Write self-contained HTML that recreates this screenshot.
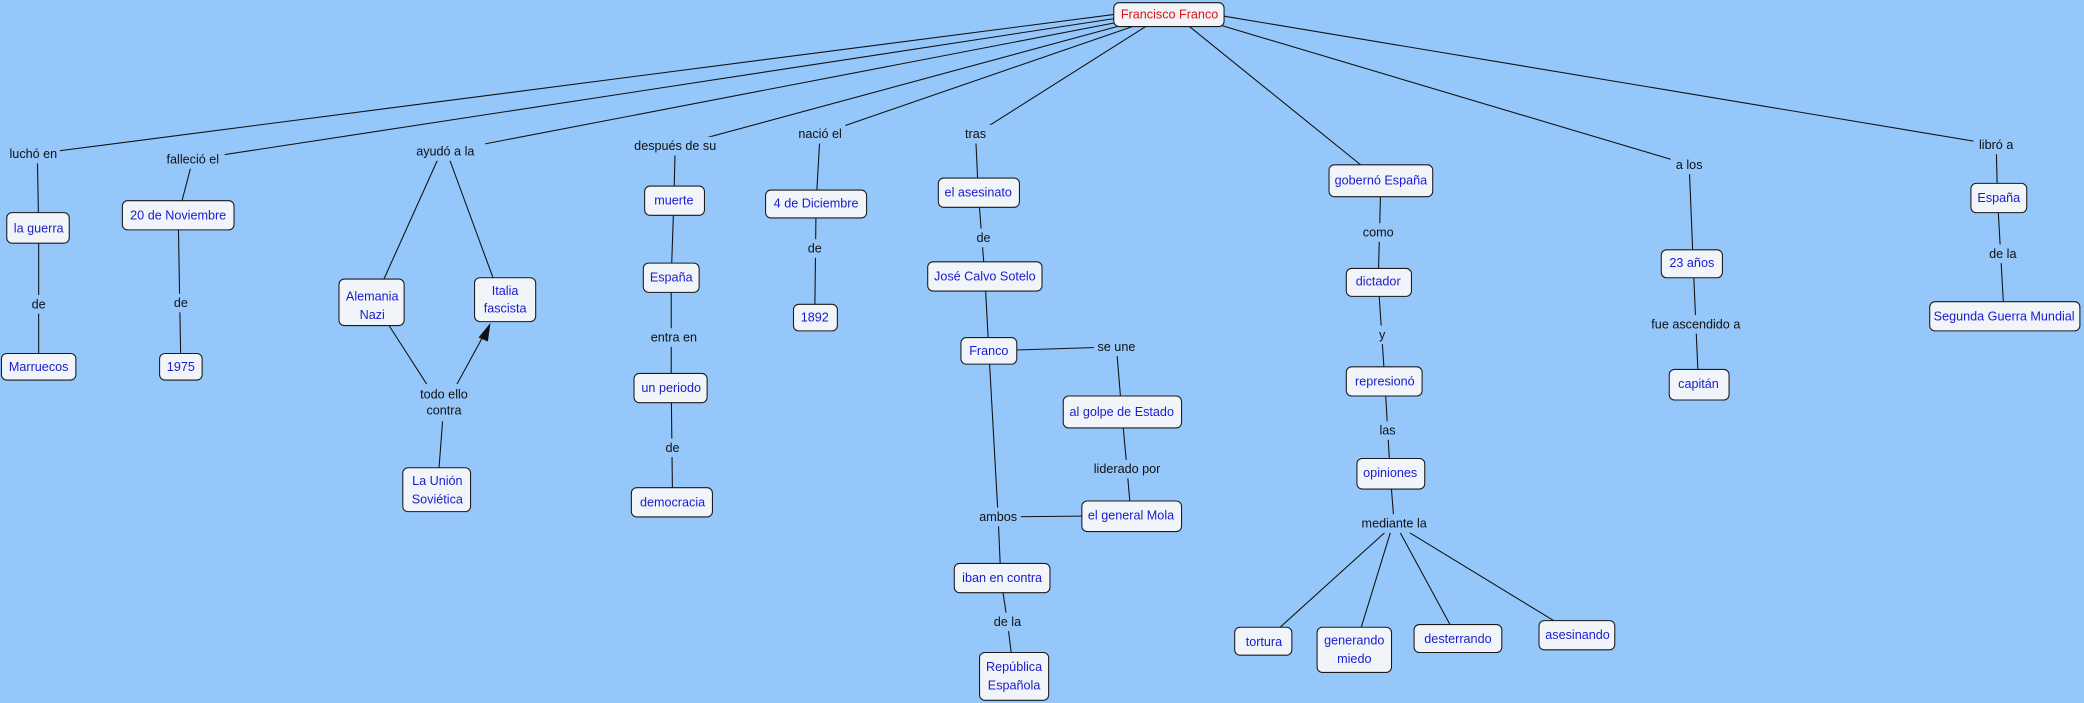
<!DOCTYPE html>
<html><head><meta charset="utf-8"><style>
html,body{margin:0;padding:0;background:#95c7fb;}
svg{display:block}
text{font-family:"Liberation Sans",sans-serif;font-size:9.5px;text-anchor:middle;dominant-baseline:central}
.n rect{fill:#f1f5f9;stroke:#1a1a1a;stroke-width:0.8}
.n text{fill:#1a1ad0}
.l text{fill:#111}
.l rect{fill:#95c7fb}
line{stroke:#111;stroke-width:0.8}
</style></head><body>
<svg width="2084" height="703" viewBox="0 0 1568 529" xmlns="http://www.w3.org/2000/svg">
<rect width="1568" height="529" fill="#95c7fb"/>
<g>
<!-- from Franco -->
<line x1="845" y1="10" x2="25" y2="116"/>
<line x1="845" y1="13" x2="145" y2="120"/>
<line x1="845" y1="16" x2="335" y2="114"/>
<line x1="848" y1="18" x2="508" y2="110"/>
<line x1="852" y1="20" x2="617" y2="101"/>
<line x1="862" y1="20" x2="734" y2="101"/>
<line x1="895" y1="20" x2="1025" y2="125"/>
<line x1="915" y1="18" x2="1271" y2="124"/>
<line x1="920" y1="12" x2="1502" y2="109"/>
<!-- chains -->
<line x1="28" y1="116" x2="29" y2="172"/><line x1="29" y1="172" x2="29" y2="276"/>
<line x1="145" y1="120" x2="134" y2="162"/><line x1="134" y1="162" x2="136" y2="276"/>
<line x1="332" y1="114" x2="287" y2="214"/><line x1="336" y1="114" x2="372" y2="212"/>
<line x1="292" y1="244" x2="330" y2="303"/><line x1="340" y1="296" x2="364" y2="252"/>
<line x1="334" y1="303" x2="329" y2="369"/>
<line x1="508" y1="110" x2="507" y2="150"/><line x1="507" y1="150" x2="505" y2="209"/><line x1="505" y1="209" x2="505" y2="292"/><line x1="505" y1="292" x2="506" y2="378"/>
<line x1="617" y1="101" x2="614" y2="153"/><line x1="614" y1="153" x2="613" y2="239"/>
<line x1="734" y1="101" x2="736" y2="144"/><line x1="736" y1="144" x2="741" y2="208"/><line x1="741" y1="208" x2="744" y2="264"/>
<line x1="744" y1="264" x2="840" y2="261"/><line x1="840" y1="261" x2="844" y2="310"/><line x1="844" y1="310" x2="848" y2="353"/><line x1="848" y1="353" x2="851" y2="388"/>
<line x1="744" y1="264" x2="751" y2="389"/><line x1="851" y1="388" x2="751" y2="389"/><line x1="751" y1="389" x2="753" y2="435"/><line x1="753" y1="435" x2="758" y2="468"/><line x1="758" y1="468" x2="763" y2="509"/>
<line x1="1039" y1="136" x2="1037" y2="212"/><line x1="1037" y1="212" x2="1042" y2="287"/><line x1="1042" y1="287" x2="1046" y2="356"/><line x1="1046" y1="356" x2="1049" y2="394"/>
<line x1="1045" y1="398" x2="951" y2="483"/><line x1="1047" y1="398" x2="1019" y2="489"/><line x1="1052" y1="398" x2="1097" y2="481"/><line x1="1056" y1="398" x2="1187" y2="478"/>
<line x1="1271" y1="124" x2="1274" y2="198"/><line x1="1274" y1="198" x2="1278" y2="289"/>
<line x1="1502" y1="109" x2="1503" y2="149"/><line x1="1503" y1="149" x2="1508" y2="238"/>
<polygon points="369,243 360,254 367,257" fill="#111"/>
</g>
<!-- linking phrases -->
<g class="l">
<rect x="5" y="109" width="40" height="14"/><text x="25" y="116">luchó en</text>
<rect x="20" y="222" width="18" height="14"/><text x="29" y="229">de</text>
<rect x="121" y="113" width="48" height="14"/><text x="145" y="120">falleció el</text>
<rect x="127" y="221" width="18" height="14"/><text x="136" y="228">de</text>
<rect x="305" y="107" width="60" height="14"/><text x="335" y="114">ayudó a la</text>
<rect x="308" y="289" width="52" height="28"/><text x="334" y="297">todo ello</text><text x="334" y="309">contra</text>
<rect x="476" y="103" width="64" height="14"/><text x="508" y="110">después de su</text>
<rect x="485" y="247" width="44" height="14"/><text x="507" y="254">entra en</text>
<rect x="497" y="330" width="18" height="14"/><text x="506" y="337">de</text>
<rect x="598" y="94" width="38" height="14"/><text x="617" y="101">nació el</text>
<rect x="604" y="180" width="18" height="14"/><text x="613" y="187">de</text>
<rect x="722" y="94" width="24" height="14"/><text x="734" y="101">tras</text>
<rect x="731" y="172" width="18" height="14"/><text x="740" y="179">de</text>
<rect x="823" y="254" width="34" height="14"/><text x="840" y="261">se une</text>
<rect x="820" y="346" width="56" height="14"/><text x="848" y="353">liderado por</text>
<rect x="734" y="382" width="34" height="14"/><text x="751" y="389">ambos</text>
<rect x="745" y="461" width="26" height="14"/><text x="758" y="468">de la</text>
<rect x="1022" y="168" width="30" height="14"/><text x="1037" y="175">como</text>
<rect x="1033" y="245" width="14" height="14"/><text x="1040" y="252">y</text>
<rect x="1033" y="317" width="22" height="14"/><text x="1044" y="324">las</text>
<rect x="1022" y="387" width="54" height="14"/><text x="1049" y="394">mediante la</text>
<rect x="1257" y="117" width="28" height="14"/><text x="1271" y="124">a los</text>
<rect x="1240" y="237" width="72" height="14"/><text x="1276" y="244">fue ascendido a</text>
<rect x="1485" y="102" width="34" height="14"/><text x="1502" y="109">libró a</text>
<rect x="1494" y="184" width="26" height="14"/><text x="1507" y="191">de la</text>
</g>
<!-- concepts -->
<g class="n">
<rect x="838" y="2" width="83" height="18" rx="4"/><text x="880" y="11" style="fill:#e01010">Francisco Franco</text>
<rect x="5" y="160" width="47" height="23" rx="4"/><text x="29" y="172">la guerra</text>
<rect x="1" y="266" width="56" height="20" rx="4"/><text x="29" y="276">Marruecos</text>
<rect x="92" y="151" width="84" height="22" rx="4"/><text x="134" y="162">20 de Noviembre</text>
<rect x="120" y="266" width="32" height="20" rx="4"/><text x="136" y="276">1975</text>
<rect x="255" y="210" width="49" height="35" rx="4"/><text x="280" y="223">Alemania</text><text x="280" y="237">Nazi</text>
<rect x="357" y="209" width="46" height="33" rx="4"/><text x="380" y="219">Italia</text><text x="380" y="232">fascista</text>
<rect x="303" y="352" width="51" height="33" rx="4"/><text x="329" y="362">La Unión</text><text x="329" y="376">Soviética</text>
<rect x="485" y="140" width="45" height="22" rx="4"/><text x="507" y="151">muerte</text>
<rect x="484" y="198" width="42" height="22" rx="4"/><text x="505" y="209">España</text>
<rect x="477" y="281" width="55" height="22" rx="4"/><text x="505" y="292">un periodo</text>
<rect x="475" y="367" width="61" height="22" rx="4"/><text x="506" y="378">democracia</text>
<rect x="576" y="143" width="76" height="21" rx="4"/><text x="614" y="153">4 de Diciembre</text>
<rect x="597" y="229" width="33" height="20" rx="4"/><text x="613" y="239">1892</text>
<rect x="706" y="134" width="61" height="22" rx="4"/><text x="736" y="145">el asesinato</text>
<rect x="698" y="197" width="86" height="22" rx="4"/><text x="741" y="208">José Calvo Sotelo</text>
<rect x="723" y="254" width="42" height="20" rx="4"/><text x="744" y="264">Franco</text>
<rect x="800" y="298" width="89" height="24" rx="4"/><text x="844" y="310">al golpe de Estado</text>
<rect x="814" y="377" width="75" height="23" rx="4"/><text x="851" y="388">el general Mola</text>
<rect x="718" y="424" width="72" height="22" rx="4"/><text x="754" y="435">iban en contra</text>
<rect x="737" y="491" width="52" height="36" rx="4"/><text x="763" y="502">República</text><text x="763" y="516">Española</text>
<rect x="1000" y="124" width="78" height="24" rx="4"/><text x="1039" y="136">gobernó España</text>
<rect x="1013" y="202" width="49" height="21" rx="4"/><text x="1037" y="212">dictador</text>
<rect x="1013" y="276" width="57" height="22" rx="4"/><text x="1042" y="287">represionó</text>
<rect x="1021" y="345" width="51" height="23" rx="4"/><text x="1046" y="356">opiniones</text>
<rect x="929" y="472" width="43" height="21" rx="4"/><text x="951" y="483">tortura</text>
<rect x="991" y="472" width="56" height="34" rx="4"/><text x="1019" y="482">generando</text><text x="1019" y="496">miedo</text>
<rect x="1064" y="470" width="66" height="21" rx="4"/><text x="1097" y="481">desterrando</text>
<rect x="1158" y="467" width="57" height="22" rx="4"/><text x="1187" y="478">asesinando</text>
<rect x="1250" y="188" width="46" height="21" rx="4"/><text x="1273" y="198">23 años</text>
<rect x="1256" y="278" width="45" height="23" rx="4"/><text x="1278" y="289">capitán</text>
<rect x="1483" y="138" width="42" height="22" rx="4"/><text x="1504" y="149">España</text>
<rect x="1452" y="227" width="113" height="22" rx="4"/><text x="1508" y="238">Segunda Guerra Mundial</text>
</g>
</svg>
</body></html>
